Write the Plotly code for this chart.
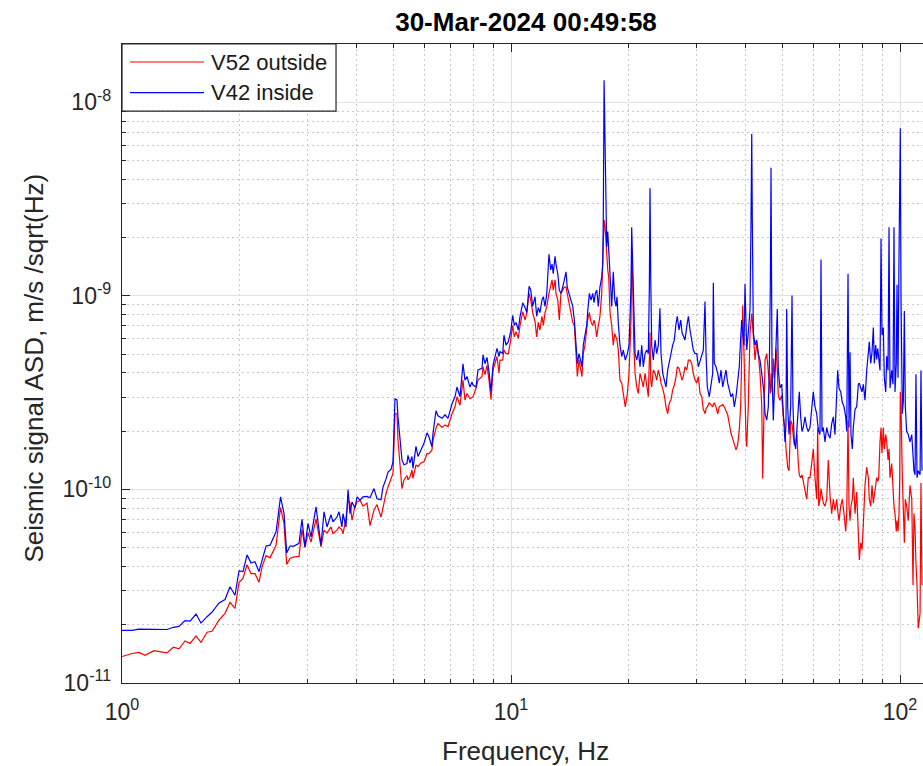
import plotly.graph_objects as go

# ---------------- data ----------------
# frequency axis, Hz
freq_hz = [
    1.000, 1.061, 1.106, 1.146, 1.208, 1.260, 1.305, 1.356, 1.401, 1.452,
    1.496, 1.550, 1.596, 1.654, 1.703, 1.776, 1.840, 1.895, 1.952, 1.999,
    2.047, 2.096, 2.146, 2.197, 2.250, 2.291, 2.346, 2.402, 2.489, 2.556,
    2.609, 2.651, 2.703, 2.768, 2.851, 2.902, 2.954, 3.007, 3.061, 3.153,
    3.248,
    3.306, 3.365, 3.445, 3.486, 3.570, 3.613, 3.677, 3.699, 3.765, 3.811,
    3.856, 3.902, 3.972, 4.019, 4.091, 4.164, 4.264, 4.340, 4.444, 4.524,
    4.633, 4.688, 4.771, 4.828, 4.915, 4.973, 5.032, 5.092, 5.122, 5.183,
    5.245, 5.307, 5.402, 5.434, 5.499, 5.565, 5.598, 5.698, 5.766, 5.869,
    5.974, 6.082, 6.154, 6.264, 6.302, 6.415, 6.491, 6.647, 6.766, 6.887,
    7.053, 7.178, 7.264, 7.394, 7.526, 7.615, 7.706, 7.844, 7.937, 7.985,
    8.128, 8.225, 8.424, 8.472, 8.574, 8.675, 8.779, 8.883, 8.989, 9.204,
    9.315,
    9.370, 9.521, 9.594, 9.708, 9.842, 9.982, 10.10, 10.20, 10.30, 10.44,
    10.55, 10.72, 10.87, 10.98, 11.13, 11.24, 11.37, 11.53, 11.64, 11.75,
    11.87, 12.01, 12.11, 12.23, 12.36, 12.52, 12.65, 12.75, 12.84, 12.98,
    13.05, 13.19, 13.31, 13.44, 13.58, 13.71, 13.85, 13.95, 14.10, 14.24,
    14.41, 14.55, 14.67, 14.81, 14.96, 15.11, 15.22, 15.34, 15.49, 15.65,
    15.74, 15.90, 16.06, 16.22, 16.35, 16.47, 16.61, 16.77, 16.93, 17.11,
    17.21, 17.27, 17.35, 17.45, 17.55, 17.62, 17.73, 17.83, 17.97, 18.15,
    18.32, 18.48, 18.62, 18.73, 18.87, 19.06, 19.26, 19.44, 19.67, 19.91,
    20.11,
    20.35, 20.43, 20.55, 20.68, 20.84, 21.05, 21.25, 21.46, 21.68, 21.88,
    22.11, 22.33, 22.54, 22.68, 22.77, 22.87, 23.00, 23.22, 23.46, 23.69,
    23.92, 24.15, 24.30, 24.55, 24.78, 25.03, 25.28, 25.53, 25.78, 26.04,
    26.29, 26.56, 26.76, 27.03, 27.31, 27.52, 27.73, 28.01, 28.30, 28.57,
    28.86, 29.15, 29.42, 29.72, 30.03, 30.31, 30.62, 30.93, 31.22, 31.41,
    31.53, 31.72, 31.96, 32.34, 32.66, 33.00, 33.12, 33.31, 33.65, 33.99,
    34.31, 34.66, 35.01, 35.34, 35.70, 36.06, 36.40, 36.77, 37.14, 37.50,
    37.88, 38.26, 38.62, 38.95, 39.18, 39.41, 39.72, 39.95, 40.19, 40.36,
    40.74, 41.16, 41.40, 41.58, 41.72, 41.97, 42.39, 42.82, 43.22, 43.66,
    44.11, 44.36, 44.63, 44.98, 45.43, 45.86, 46.13, 46.41, 46.60,
    46.88, 47.24, 47.52, 47.72, 48.00, 48.37, 48.66, 49.14, 49.64, 50.12,
    50.62, 50.92, 51.13, 51.44, 51.84, 52.36, 52.77, 53.07, 53.49, 53.93,
    54.35, 54.77, 55.09, 55.55, 55.98, 56.41, 56.98, 57.56, 58.11, 58.69,
    59.29, 59.85, 60.46, 61.07, 61.43, 61.80, 62.27, 62.65, 63.02, 63.50,
    64.15, 64.80, 65.41, 66.08, 66.74, 67.38, 68.06, 68.75, 69.15, 69.69,
    70.40, 71.07, 71.78, 72.51, 72.95, 73.51, 73.95, 74.39, 74.82, 75.41,
    75.85, 76.62, 77.40, 78.13, 78.60, 79.25, 79.86, 80.49, 81.28, 82.11,
    82.89, 83.39, 84.08, 84.73, 85.39, 85.90, 86.60, 87.12, 87.64, 88.15,
    88.84, 89.37, 89.89, 90.59, 91.13, 91.89, 92.44, 93.16, 93.71, 94.26,
    95.21, 95.94, 96.51, 97.08, 97.83, 98.24, 98.83, 99.41, 99.82, 100.18,
    100.6, 101.4, 102.0, 102.6, 103.2, 104.0, 105.0, 106.1, 107.2, 108.0,
    108.6, 109.3, 109.9, 110.6, 111.4, 112.6, 113.2, 113.9,
]

# ASD values in units of 1e-11 m/s/sqrt(Hz)
ASD_UNIT = 1e-11

asd_v52_outside = [
    1.37, 1.42, 1.44, 1.39, 1.47, 1.45, 1.43, 1.53, 1.50, 1.65,
    1.60, 1.75, 1.62, 1.83, 1.85, 2.11, 2.29, 2.61, 2.43, 3.30,
    3.48, 4.08, 3.67, 3.67, 3.31, 3.98, 4.55, 4.43, 5.15, 8.07,
    6.68, 4.10, 4.40, 4.48, 4.51, 6.21, 5.00, 5.97, 5.34, 7.05,
    5.05,
    6.16, 5.95, 6.4, 5.9, 6.16, 6.4, 6.16, 5.9, 7.08, 8.8,
    8.5, 6.94, 8.2, 8.6, 8.8, 8.2, 8.5, 6.5, 7.82, 8.35,
    7.2, 8.2, 9.5, 10.3, 11.2, 12.1, 24.6, 24.6, 18.0, 13.1,
    10.1, 11.2, 11.8, 11.2, 11.6, 12.6, 11.4, 13.4, 13.1, 13.7,
    13.9, 15.3, 15.3, 16.0, 18.0, 20.7, 21.9, 20.9, 21.5, 21.1,
    24.6, 26.7, 30.1, 27.2, 36.7, 28.9, 31.3, 29.4, 30.1, 30.1,
    33.2, 36.7, 38.3, 43.0, 39.2, 43.7, 36.7, 29.1, 41.4, 48.6,
    39.8,
    46.6, 46.6, 52.5, 50.3, 50.3, 59.1, 70.3, 61.4, 65.3, 60.3,
    70.3, 82.9, 75, 81.9, 103, 95.1, 81.9, 73.5, 61.4, 72.9,
    66.6, 78.4, 70.3, 81.9, 88.2, 103, 111, 121, 107, 121,
    103, 95.1, 75, 103, 107, 111, 111, 103, 95, 84.5,
    72.9, 70.3, 52.5, 38.3, 46.6, 41.4, 38.3, 50.3, 55.6, 66.6,
    75, 81.9, 72.9, 70.3, 75, 70.3, 61.4, 70.3, 78.4, 103,
    153, 194, 247, 228, 179, 153, 136, 125, 82, 70.3,
    55.6, 63.8, 61.4, 59, 52.5, 36.7, 35.4, 31.3, 26.7, 31.3,
    39.8,
    75, 168, 117, 55.6, 39.8, 33.8, 31.3, 39.8, 36.7, 33.8,
    39.8, 35.4, 30.1, 46.6, 64.6, 36.7, 33.8, 41.4, 39.8, 36.7,
    41.4, 38.3, 35.4, 33.2, 30.6, 26.7, 24.6, 28.0, 29.1, 32.6,
    34.6, 38.3, 43.0, 42.2, 38.3, 36.7, 38.3, 43.0, 41.4, 46.6,
    46.6, 44.8, 39.8, 36.7, 35.4, 38.3, 31.3, 30.1, 25.7, 25.3,
    24.6, 26.1, 26.7, 28.0, 27.4, 26.7, 27.4, 28.0, 26.7, 24.6,
    26.7, 27.2, 27.4, 26.7, 25.3, 24.3, 21.9, 19.5, 18.3, 17.3,
    16.0, 17.0, 20.3, 27.4, 50.3, 89.1, 50.3, 25.7, 18.6, 16.6,
    27.4, 64.6, 75, 81, 75, 59.1, 46.6, 56.9, 50.3, 39.8,
    27.4, 11.4, 27.4, 46.6, 50.3, 39.8, 33.8, 31.3, 39.8,
    31.9, 47.5, 37.7, 42.9, 53.5, 41.2, 30.6, 28.9, 30.6, 23.7,
    20.9, 16.2, 14.8, 13.0, 12.5, 22.7, 21.8, 19.2, 16.9, 17.6,
    19.2, 13.6, 11.9, 11.5, 11.9, 11.0, 9.7, 8.9, 11.5, 11.5,
    13.6, 16.2, 11.5, 8.9, 20.9, 8.2, 8.9, 10.1, 9.3, 8.5,
    8.2, 8.9, 14.2, 9.3, 7.5, 8.9, 7.8, 8.9, 7.8, 6.9,
    8.2, 8.9, 7.5, 6.06, 7.5, 22.7, 8.2, 6.9, 8.2, 8.9,
    11.5, 7.5, 9.7, 6.06, 4.32, 5.3, 4.9, 6.6, 10.5, 13.0,
    11.5, 8.9, 8.2, 10.5, 8.5, 9.3, 10.5, 11.5, 11.0, 11.5,
    17.6, 20.9, 15.4, 20.9, 16.2, 19.2, 17.6, 14.2, 16.2, 11.5,
    13.6, 9.3, 8.2, 7.5, 6.06, 6.9, 6.06, 7.5, 11.5, 31.9,
    26.8, 11.5, 8.5, 5.3, 8.9, 8.2, 6.9, 10.5, 8.9, 3.2,
    7.5, 6.3, 4.14, 3.2, 1.92, 2.28, 10.8, 3.2,
]

asd_v42_inside = [
    1.87, 1.87, 1.90, 1.90, 1.90, 1.90, 1.89, 1.94, 1.96, 2.10,
    2.09, 2.27, 2.04, 2.20, 2.32, 2.59, 2.70, 3.14, 2.84, 3.79,
    3.76, 4.59, 4.17, 4.23, 3.76, 4.30, 5.10, 5.15, 6.04, 9.15,
    7.50, 4.70, 5.10, 5.10, 5.27, 7.00, 5.05, 6.68, 5.68, 8.13,
    5.15,
    7.66, 6.4, 7.4, 6.8, 7.2, 7.66, 6.4, 7.5, 6.4, 9.97,
    7.5, 8.6, 8.0, 9.15, 8.8, 9.15, 9.2, 9.05, 10.1, 8.95,
    8.85, 10.3, 11.3, 12.3, 12.7, 13.9, 29.4, 29.0, 23.7, 18.0,
    14.2, 13.4, 13.6, 15.0, 13.7, 14.8, 12.85, 16.7, 14.8, 16.0,
    17.3, 19.6, 18.7, 16.6, 19.5, 25.5, 24.0, 23.3, 24.3, 23.3,
    27.7, 30.1, 33.8, 30.1, 44.6, 36.7, 38.3, 33.8, 35.9, 34.6,
    33.8, 41.4, 42.2, 49.5, 44.6, 48.1, 40.6, 32.0, 43.7, 53.5,
    48.6,
    51.5, 50.3, 62.6, 55.6, 58, 65.3, 79.2, 70.3, 72.9, 66.6,
    78.4, 92.1, 86.9, 81.9, 112, 107, 88.2, 99, 78.4, 86.9,
    81.9, 95.1, 99, 88.2, 103, 164, 136, 146, 130, 160,
    146, 130, 107, 103, 111, 121, 133, 111, 103, 97,
    88.2, 75, 61.4, 44.6, 50.3, 46.6, 43, 55.6, 61.4, 70.3,
    81.9, 103, 95.1, 103, 92.1, 103, 107, 88.2, 111, 125,
    146, 257, 1300, 504, 187, 179, 215, 167, 121, 88.2,
    133, 95.1, 88.2, 99, 72.9, 55.6, 48.6, 52.5, 46.6, 50.3,
    55.6,
    111, 226, 153, 75, 50.3, 46.6, 52.5, 43, 55.6, 43,
    50.3, 52.5, 50.3, 111, 360, 120.7, 55.6, 46.6, 59.1, 50.3,
    55.6, 86.2, 50.3, 39.8, 36.7, 33.8, 41.4, 46.6, 50.3, 55.6,
    59.1, 72.1, 78.4, 66.6, 75, 64.6, 61.4, 59.1, 69.3, 78.4,
    66.6, 59.1, 52.5, 50.3, 50.3, 43, 46.6, 50.3, 52.5, 75,
    93.6, 50.3, 33.8, 30.1, 35.4, 39.8, 117, 44.8, 43, 39.8,
    35.4, 41.4, 33.8, 36.7, 41.4, 35.4, 32.6, 30.1, 31.3, 26.7,
    30.1, 36.7, 43, 61.4, 75, 64.6, 55.6, 115.5, 75, 52.5,
    64.6, 85.6, 246, 685, 246, 64.6, 55.6, 59.1, 50.3, 46.6,
    39.8, 35.4, 32.6, 24.6, 22.8, 26.7, 41.4, 111, 459,
    41.2, 22.7, 31.9, 41.2, 57.9, 85.4, 41.2, 33.4, 34.9, 23.7,
    17.6, 21.8, 85.4, 26.8, 19.2, 26.8, 100.4, 26.8, 17.6, 16.2,
    20.9, 26.8, 31.9, 23.7, 19.9, 20.9, 23.7, 20.9, 19.9, 20.9,
    26.8, 31.9, 26.8, 24.6, 21.8, 19.9, 19.2, 154, 19.9, 20.9,
    17.6, 20.9, 19.2, 18.4, 21.8, 23.7, 19.2, 31.9, 41.2, 33.4,
    31.9, 28.1, 26.8, 23.7, 19.9, 130, 20.9, 51.1, 19.2, 16.2,
    20.9, 25.9, 26.8, 34.9, 35.4, 33.4, 31.9, 34.9, 28.9, 41.2,
    53.5, 57.9, 44.8, 51.1, 68.6, 44.8, 55.7, 46.9, 53.5, 48.8,
    41.2, 198, 62.8, 68.6, 37.7, 31.9, 48.8, 41.2, 226, 33.4,
    41.2, 34.9, 226, 31.9, 44.8, 114, 37.7, 161, 339, 735,
    96.4, 24.6, 28.9, 83.5, 26.8, 19.9, 19.2, 17.6, 19.2, 13.6,
    12.5, 11.9, 39.4, 11.5, 12.5, 11.9, 41.2, 12.5,
]

series_names = ["V52 outside", "V42 inside"]
series_colors = ["#ff0000", "#0000ff"]

x_tick_vals = [1, 10, 100]
x_tick_text = ["10<sup>0</sup>", "10<sup>1</sup>", "10<sup>2</sup>"]
y_tick_vals = [1e-11, 1e-10, 1e-9, 1e-8]
y_tick_text = ["10<sup>-11</sup>", "10<sup>-10</sup>", "10<sup>-9</sup>", "10<sup>-8</sup>"]

# ---------------- figure ----------------
FONT = "Liberation Sans, Arial, Helvetica, sans-serif"
AX = "#262626"

fig = go.Figure()
for name, color, vals in zip(series_names, series_colors,
                             [asd_v52_outside, asd_v42_inside]):
    fig.add_trace(go.Scatter(
        x=freq_hz, y=[v * ASD_UNIT for v in vals], mode="lines", name=name,
        line=dict(color=color, width=1.2), showlegend=False))

x_minor = [m * d for d in (1, 10) for m in range(2, 10)]
y_minor = [m * 10.0 ** e for e in (-11, -10, -9, -8) for m in range(2, 10)
           if m * 10.0 ** e <= 2e-8]

common = dict(
    showline=True, linecolor=AX, linewidth=1.3, ticks="inside", ticklen=8,
    tickwidth=1.3, tickcolor=AX, showgrid=True, gridcolor="#e1e1e1",
    gridwidth=1, zeroline=False,
    tickfont=dict(family=FONT, size=23, color=AX),
)

fig.update_xaxes(
    type="log", range=[0, 2.0591], mirror="ticks",
    tickmode="array", tickvals=x_tick_vals, ticktext=x_tick_text,
    ticklabelstandoff=8,
    minor=dict(tickmode="array", tickvals=x_minor, ticks="inside", ticklen=4,
               tickcolor=AX, tickwidth=1.2, showgrid=True,
               gridcolor="#c8c8c8", griddash="2px,3px", gridwidth=1),
    **common)
fig.update_yaxes(
    type="log", range=[-11, -7.699], mirror=False,
    tickmode="array", tickvals=y_tick_vals, ticktext=y_tick_text,
    ticklabelstandoff=5,
    minor=dict(tickmode="array", tickvals=y_minor, ticks="inside", ticklen=4,
               tickcolor=AX, tickwidth=1.2, showgrid=True,
               gridcolor="#c8c8c8", griddash="2px,3px", gridwidth=1),
    **common)

# legend box drawn in the top-left corner of the axes
shapes = [dict(type="rect", xref="paper", yref="paper", x0=0, x1=0.2672,
               y0=0.8951, y1=1.0, line=dict(color=AX, width=1.2),
               fillcolor="white", layer="above")]
annotations = []
for (ypos, name, color) in zip([0.9718, 0.9238], series_names, series_colors):
    shapes.append(dict(type="line", xref="paper", yref="paper", x0=0.0100,
                       x1=0.1024, y0=ypos, y1=ypos,
                       line=dict(color=color, width=1.2), layer="above"))
    annotations.append(dict(text=name, xref="paper", yref="paper", x=0.1090,
                            y=ypos, xanchor="left", yanchor="middle",
                            showarrow=False,
                            font=dict(family=FONT, size=22, color="#1a1a1a")))

annotations.append(dict(text="Frequency, Hz", xref="paper", yref="paper",
                        x=0.5037, y=-0.1064, xanchor="center",
                        yanchor="middle", showarrow=False,
                        font=dict(family=FONT, size=26, color=AX)))
annotations.append(dict(text="Seismic signal ASD, m/s /sqrt(Hz)", xref="paper",
                        yref="paper", x=-0.1099, y=0.4937, xanchor="center",
                        yanchor="middle", textangle=-90, showarrow=False,
                        font=dict(family=FONT, size=26, color=AX)))

fig.update_layout(
    width=923, height=766,
    margin=dict(l=122, r=0, t=44, b=83),
    paper_bgcolor="white", plot_bgcolor="white",
    title=dict(text="<b>30-Mar-2024 00:49:58</b>", xref="container",
               yref="container", x=0.5699, y=0.9713, xanchor="center",
               yanchor="middle", font=dict(family=FONT, size=26, color="black")),
    shapes=shapes, annotations=annotations, showlegend=False,
)

fig.write_html("out.html",
               config={"displayModeBar": False},
               post_script="document.body.style.margin='0px';"
                           "document.body.style.overflow='hidden';")
